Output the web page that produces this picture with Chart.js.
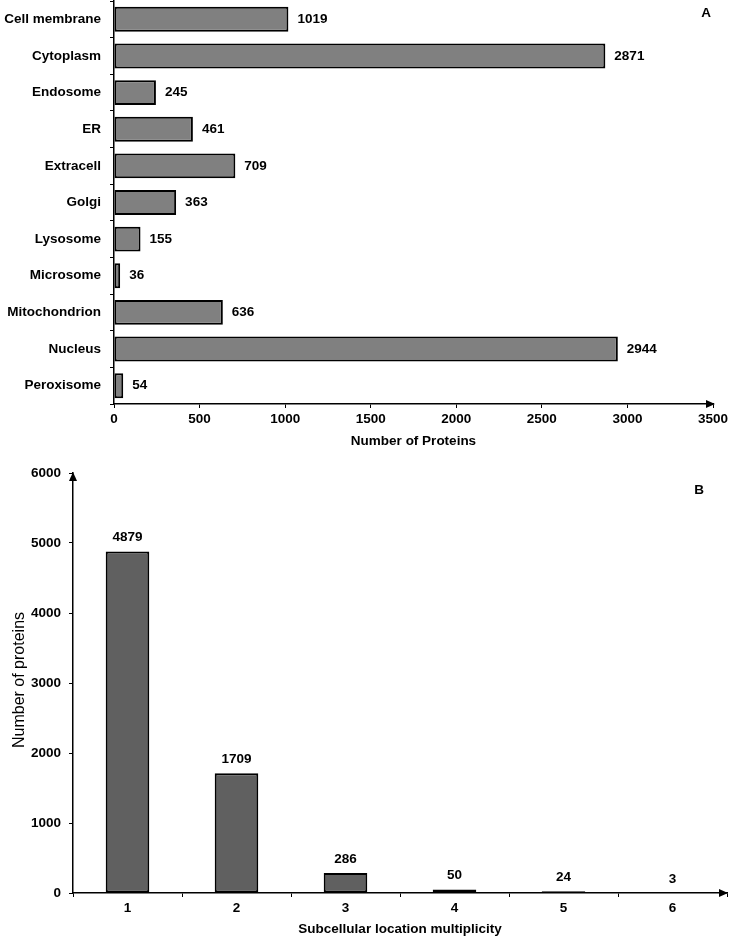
<!DOCTYPE html>
<html>
<head>
<meta charset="utf-8">
<script src="https://cdn.jsdelivr.net/npm/chart.js@4.4.0/dist/chart.umd.min.js"></script>
<style>
  body { margin: 0; background: #fff; }
  #wrap { position: relative; width: 732px; height: 940px; }
  .box { position: absolute; left: 0; width: 732px; }
  #boxA { top: 0; height: 460px; }
  #boxB { top: 460px; height: 480px; }
</style>
</head>
<body>
<div id="wrap">
  <div class="box" id="boxA"><canvas id="chartA"></canvas></div>
  <div class="box" id="boxB"><canvas id="chartB"></canvas></div>
</div>
<script>
// data for panel A
const locations = ['Cell membrane', 'Cytoplasm', 'Endosome', 'ER', 'Extracell', 'Golgi',
  'Lysosome', 'Microsome', 'Mitochondrion', 'Nucleus', 'Peroxisome'];
const locationCounts = [1019, 2871, 245, 461, 709, 363, 155, 36, 636, 2944, 54];
const xTicksA = [0, 500, 1000, 1500, 2000, 2500, 3000, 3500];

// data for panel B
const multiplicity = ['1', '2', '3', '4', '5', '6'];
const multiplicityCounts = [4879, 1709, 286, 50, 24, 3];
const yTicksB = [0, 1000, 2000, 3000, 4000, 5000, 6000];

const FONT = '"Liberation Sans", Arial, sans-serif';
const BOLD = 'bold 13.5px ' + FONT;
Chart.defaults.font.family = FONT;
Chart.defaults.color = '#000';
Chart.defaults.animation = false;

function arrow(ctx, x, y, dir) {
  ctx.save();
  ctx.fillStyle = '#000';
  ctx.beginPath();
  if (dir === 'right') {
    ctx.moveTo(x, y); ctx.lineTo(x - 9, y - 4); ctx.lineTo(x - 9, y + 4);
  } else {
    ctx.moveTo(x, y); ctx.lineTo(x - 4, y + 9); ctx.lineTo(x + 4, y + 9);
  }
  ctx.closePath();
  ctx.fill();
  ctx.restore();
}

function txt(ctx, s, x, y, font, align, rot) {
  ctx.save();
  ctx.font = font;
  ctx.fillStyle = '#000';
  ctx.textAlign = align || 'center';
  ctx.textBaseline = 'middle';
  ctx.translate(x, y);
  if (rot) ctx.rotate(rot);
  ctx.fillText(s, 0, 0);
  ctx.restore();
}

// fixed box size, no extra padding from the scale labels
function fixBox(w, h) {
  return s => {
    if (w) s.width = w;
    if (h) s.height = h;
    s.paddingTop = 0; s.paddingBottom = 0; s.paddingLeft = 0; s.paddingRight = 0;
  };
}

const plain = v => String(v);

// panel A extras: value labels, arrow, title, letter
const extrasA = {
  id: 'extrasA',
  afterDraw(chart) {
    const ctx = chart.ctx;
    const area = chart.chartArea;
    chart.getDatasetMeta(0).data.forEach((bar, i) => {
      txt(ctx, String(locationCounts[i]), bar.x + 9, bar.y, BOLD, 'left');
    });
    arrow(ctx, area.right + 2, area.bottom, 'right');
    txt(ctx, 'Number of Proteins', (area.left + area.right) / 2, 441, BOLD);
    txt(ctx, 'A', 706, 13, BOLD);
  }
};

// panel B extras
const extrasB = {
  id: 'extrasB',
  afterDraw(chart) {
    const ctx = chart.ctx;
    const area = chart.chartArea;
    chart.getDatasetMeta(0).data.forEach((bar, i) => {
      txt(ctx, String(multiplicityCounts[i]), bar.x, bar.y - 14, BOLD);
    });
    arrow(ctx, area.left, area.top - 1, 'up');
    arrow(ctx, area.right + 1, area.bottom, 'right');
    txt(ctx, 'Subcellular location multiplicity', (area.left + area.right) / 2, 469, BOLD);
    txt(ctx, 'Number of proteins', 20, 220, '16px ' + FONT, 'center', -Math.PI / 2);
    txt(ctx, 'B', 699, 30, BOLD);
  }
};

new Chart(document.getElementById('chartA'), {
  type: 'bar',
  data: {
    labels: locations,
    datasets: [{
      data: locationCounts,
      backgroundColor: '#808080',
      borderColor: '#000',
      borderWidth: 2,
      borderSkipped: false,
      barPercentage: 0.68,
      categoryPercentage: 1
    }]
  },
  options: {
    indexAxis: 'y',
    responsive: true,
    maintainAspectRatio: false,
    layout: { padding: { top: 1, right: 19, left: 0, bottom: 0 } },
    plugins: { legend: { display: false }, tooltip: { enabled: false } },
    scales: {
      x: {
        min: 0, max: 3500,
        afterBuildTicks: s => { s.ticks = xTicksA.map(v => ({ value: v })); },
        afterFit: fixBox(0, 56),
        grid: { drawOnChartArea: false, drawTicks: true, tickLength: 4, color: '#000' },
        border: { display: true, color: '#000', width: 1.5 },
        ticks: { font: { size: 13.5, weight: 'bold' }, padding: 3, maxRotation: 0, callback: plain }
      },
      y: {
        afterFit: fixBox(114, 0),
        grid: { drawOnChartArea: false, drawTicks: true, tickLength: 4, color: '#000', offset: true },
        border: { display: true, color: '#000', width: 1.5 },
        ticks: { font: { size: 13.5, weight: 'bold' }, padding: 9 }
      }
    }
  },
  plugins: [extrasA]
});

new Chart(document.getElementById('chartB'), {
  type: 'bar',
  data: {
    labels: multiplicity,
    datasets: [{
      data: multiplicityCounts,
      backgroundColor: '#606060',
      borderColor: '#000',
      borderWidth: 2,
      borderSkipped: false,
      barPercentage: 0.4,
      categoryPercentage: 1
    }]
  },
  options: {
    responsive: true,
    maintainAspectRatio: false,
    layout: { padding: { top: 13, right: 5, left: 0, bottom: 0 } },
    plugins: { legend: { display: false }, tooltip: { enabled: false } },
    scales: {
      x: {
        afterFit: fixBox(0, 47),
        grid: { drawOnChartArea: false, drawTicks: true, tickLength: 4, color: '#000', offset: true },
        border: { display: true, color: '#000', width: 1.5 },
        ticks: { font: { size: 13.5, weight: 'bold' }, padding: 3 }
      },
      y: {
        min: 0, max: 6000,
        afterBuildTicks: s => { s.ticks = yTicksB.map(v => ({ value: v })); },
        afterFit: fixBox(73, 0),
        grid: { drawOnChartArea: false, drawTicks: true, tickLength: 4, color: '#000' },
        border: { display: true, color: '#000', width: 1.5 },
        ticks: { font: { size: 13.5, weight: 'bold' }, padding: 8, callback: plain }
      }
    }
  },
  plugins: [extrasB]
});
</script>
</body>
</html>
